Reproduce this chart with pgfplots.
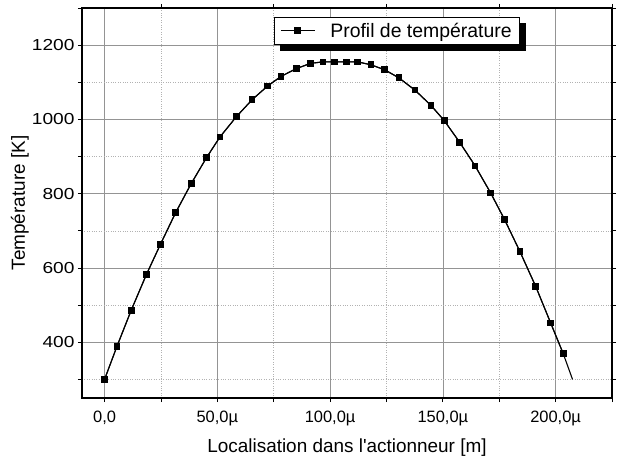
\documentclass[border=0pt]{standalone}
\usepackage{fontspec}
\setmainfont{Liberation Sans}[Ligatures=TeXOff]
\newfontfamily\tickfont{Liberation Sans}[FakeStretch=1.2]
\usepackage{pgfplots}
\pgfplotsset{compat=1.18}
\pgfplotsset{
 frame/.style={scale only axis, width=530bp, height=390bp,
   xmin=-10, xmax=225, ymin=250, ymax=1300},
 legbox/.style={
   legend style={at={(axis description cs:0.362,0.977)}, anchor=north west,
     draw=black, line width=0.8pt, fill=white,
     font=\fontsize{19.5}{22}\selectfont, inner xsep=6bp, inner ysep=3.5bp,
     /tikz/every odd column/.append style={column sep=13bp}},
   legend image code/.code={\draw[mark repeat=2, mark phase=2] plot coordinates {(0bp,0bp) (17bp,0bp) (34bp,0bp)};}},
}
\begin{document}
\begin{tikzpicture}
\useasboundingbox (-82bp,-59bp) rectangle (537bp,398bp);
\begin{axis}[frame,
 xtick={0,50,100,150,200},
 xticklabels={{0,0},{50,0µ},{100,0µ},{150,0µ},{200,0µ}},
 minor xtick={25,75,125,175,225},
 ytick={400,600,800,1000,1200},
 minor ytick={300,500,700,900,1100,1300},
 grid=both,
 major grid style={black!42, line width=0.7pt},
 minor grid style={black!30, dotted, line width=0.6pt},
 tick align=outside,
 xtick pos=bottom, ytick pos=both,
 major tick length=4bp, minor tick length=4bp,
 axis line style={line width=1.2pt},
 every tick/.style={black, line width=0.8pt},
 xticklabel style={font=\fontsize{16.5}{19}\selectfont, yshift=-6bp},
 yticklabel style={font=\tickfont\fontsize{16}{19}\selectfont},
 /pgf/number format/assume math mode=true,
 /pgf/number format/set thousands separator={},
 label style={font=\fontsize{19}{22}\selectfont},
 xlabel={Localisation dans l'actionneur [m]},
 ylabel={Température [K]},
 xlabel style={at={(axis description cs:0.5,-0.128)}, anchor=center},
 ylabel style={at={(axis description cs:-0.117,0.5)}, anchor=center},
]
\addplot[black, line width=1.1pt] table {
x y
0 300
5.5 389
11.8 486
18.6 583
24.8 664
31.6 750
38.4 827
45.3 898
51.2 953
58.4 1007
65.4 1053
72.3 1090
78.3 1116
85.1 1137
91.4 1151
96.9 1155
102.0 1155
107.2 1155
112.3 1155
118.1 1147
124.1 1134
130.5 1112
137.6 1079
144.7 1038
150.6 997
157.5 938
164.3 875
171.2 802
177.4 730
184.2 644
191.2 550
197.8 452
203.4 369
207.5 300
};
\addplot[black, line width=1.1pt, mark=square*, mark size=2.8bp, mark options={solid}] table {
x y
0 300
5.5 389
11.8 486
18.6 583
24.8 664
31.6 750
38.4 827
45.3 898
51.2 953
58.4 1007
65.4 1053
72.3 1090
78.3 1116
85.1 1137
91.4 1151
96.9 1155
102.0 1155
107.2 1155
112.3 1155
118.1 1147
124.1 1134
130.5 1112
137.6 1079
144.7 1038
150.6 997
157.5 938
164.3 875
171.2 802
177.4 730
184.2 644
191.2 550
197.8 452
203.4 369
};
\end{axis}
\begin{axis}[frame,
 axis x line*=top, axis y line=none,
 xtick={25,75,125,175,225}, xticklabels={},
 tick align=outside, major tick length=4bp,
 axis line style={line width=1.2pt, -},
 every tick/.style={black, line width=0.8pt},
]
\end{axis}
% shadow of the legend box
\begin{axis}[frame, hide axis, legbox,
 legend style={xshift=6bp, yshift=-6bp, fill=black, text=black}]
\addlegendimage{black, line width=1.1pt, mark=square*, mark size=2.8bp}
\addlegendentry{\phantom{Profil de température}}
\end{axis}
% legend box
\begin{axis}[frame, hide axis, legbox]
\addlegendimage{black, line width=1.1pt, mark=square*, mark size=2.8bp}
\addlegendentry{Profil de température}
\end{axis}
\end{tikzpicture}
\end{document}
